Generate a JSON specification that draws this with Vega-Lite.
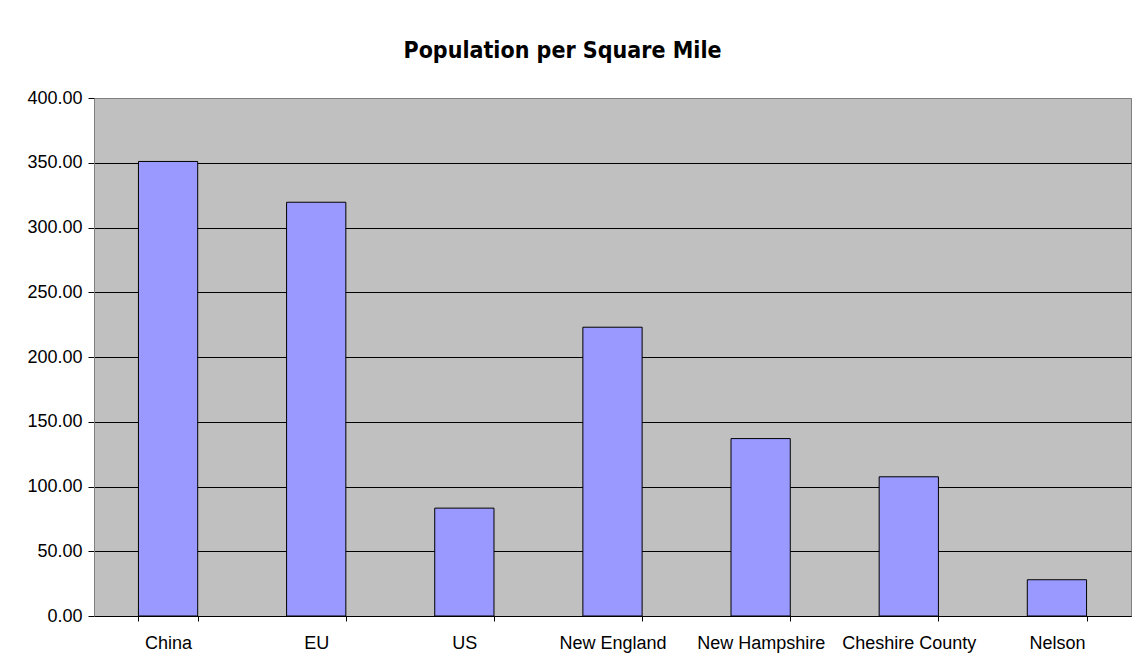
{
  "$schema": "https://vega.github.io/schema/vega-lite/v6.json",
  "autosize": {"type": "none"},
  "width": 1037,
  "height": 518,
  "padding": {"left": 94, "top": 98, "right": 3, "bottom": 54},
  "background": "white",
  "title": {
    "text": "Population per Square Mile",
    "font": "DejaVu Sans Condensed, DejaVu Sans",
    "fontSize": 23,
    "fontWeight": "bold",
    "color": "black",
    "anchor": "middle",
    "frame": "group",
    "dx": -50,
    "baseline": "alphabetic",
    "offset": 8
  },
  "data": {
    "values": [
      {"region": "China", "density": 351},
      {"region": "EU", "density": 319.5},
      {"region": "US", "density": 83.3},
      {"region": "New England", "density": 223},
      {"region": "New Hampshire", "density": 137},
      {"region": "Cheshire County", "density": 107.5},
      {"region": "Nelson", "density": 28}
    ]
  },
  "mark": {"type": "bar", "fill": "#9999FF", "stroke": "black", "strokeWidth": 1},
  "encoding": {
    "x": {
      "field": "region",
      "type": "nominal",
      "sort": null,
      "scale": {"paddingInner": 0.6, "paddingOuter": 0.3},
      "axis": {
        "title": null,
        "labelAngle": 0,
        "labelFont": "Liberation Sans",
        "labelFontSize": 18,
        "labelColor": "black",
        "labelPadding": 13,
        "tickBand": "extent",
        "tickColor": "black",
        "tickSize": 5,
        "domainColor": "black",
        "grid": false
      }
    },
    "y": {
      "field": "density",
      "type": "quantitative",
      "scale": {"domain": [0, 400], "nice": false},
      "axis": {
        "title": null,
        "values": [0, 50, 100, 150, 200, 250, 300, 350, 400],
        "format": ".2f",
        "labelFont": "Liberation Sans",
        "labelFontSize": 18,
        "labelColor": "black",
        "labelPadding": 6,
        "tickColor": "black",
        "tickSize": 6,
        "domainColor": "#808080",
        "grid": true,
        "gridColor": {"condition": {"test": "datum.value == 400", "value": "#808080"}, "value": "black"},
        "gridOpacity": 1
      }
    }
  },
  "config": {
    "view": {"fill": "#C0C0C0", "stroke": "#808080", "strokeWidth": 1}
  }
}
